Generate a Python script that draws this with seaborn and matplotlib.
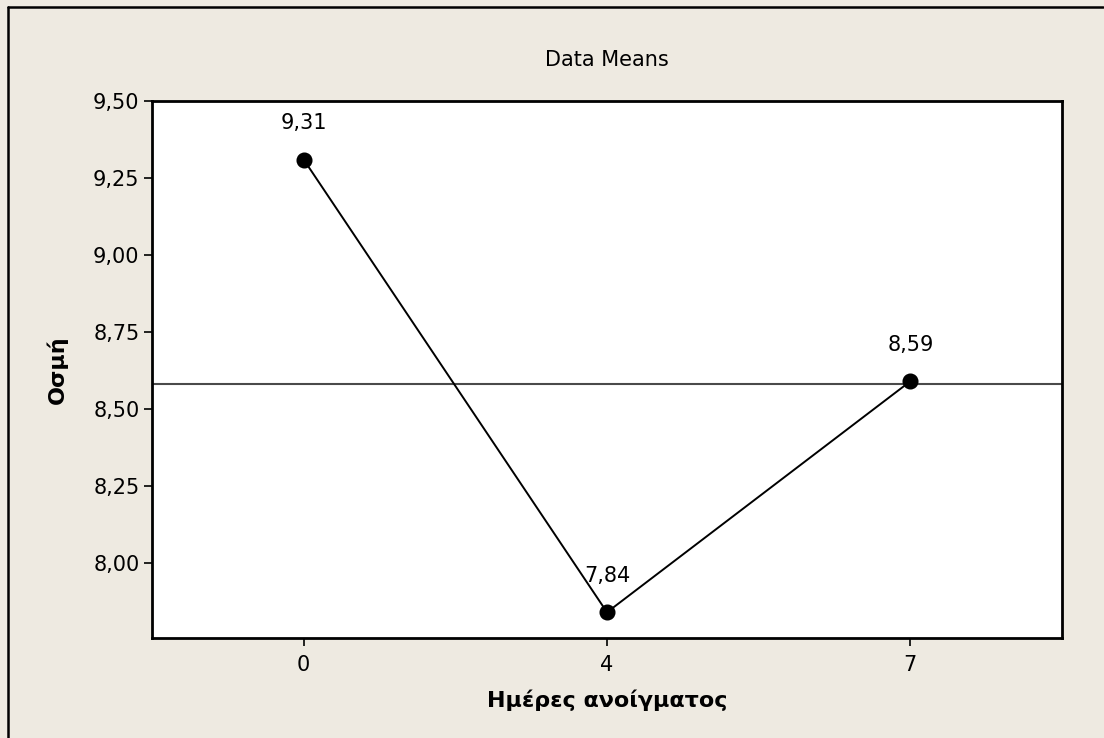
import matplotlib
matplotlib.use("Agg")
import matplotlib.pyplot as plt
import seaborn as sns
import pandas as pd
from matplotlib.lines import Line2D

# Main effects: mean odour score per opening day
days = ["0", "4", "7"]
means = [9.31, 7.84, 8.59]
grand_mean = 8.58
y_ticks = [8.00, 8.25, 8.50, 8.75, 9.00, 9.25, 9.50]

title = "Data Means"
x_label = "Ημέρες ανοίγματος"
y_label = "Οσμή"

BG = "#eeeae1"

sns.set_theme(style="white")
plt.rcParams["font.family"] = ["DejaVu Sans"]

df = pd.DataFrame({"day": days, "mean": means})

fig = plt.figure(figsize=(11.04, 7.38), dpi=100, facecolor=BG)
ax = fig.add_axes([152 / 1104, 1 - 638 / 738, (1062 - 152) / 1104, (638 - 101) / 738])
ax.set_facecolor("white")

# reference line at the overall mean
ax.axhline(grand_mean, color="#4a4a4a", lw=1.5, zorder=1)

sns.pointplot(data=df, x="day", y="mean", order=days, color="black",
              markers="o", linestyles="-", linewidth=1.4, markersize=10.5,
              errorbar=None, ax=ax, zorder=3)

for i, v in enumerate(means):
    ax.annotate(f"{v:.2f}".replace(".", ","), xy=(i, v), xytext=(0, 19),
                textcoords="offset points", ha="center", va="bottom",
                fontsize=15, color="black")

ax.set_xlim(-0.5, 2.5)
ax.set_ylim(7.7565, 9.50)
ax.set_yticks(y_ticks)
ax.set_yticklabels([f"{t:.2f}".replace(".", ",") for t in y_ticks])
ax.tick_params(axis="both", which="major", direction="out", length=6, width=1.2,
               color="black", labelsize=15, labelcolor="black", pad=3,
               left=True, bottom=True, right=False, top=False)
ax.tick_params(axis="x", pad=6)

for s in ax.spines.values():
    s.set_visible(True)
    s.set_color("black")
    s.set_linewidth(2)

ax.set_xlabel(x_label, fontsize=16, fontweight="bold", color="black", labelpad=11)
ax.set_ylabel(y_label, fontsize=16, fontweight="bold", color="black", labelpad=18)
ax.set_title(title, fontsize=15, color="black", pad=25)

# outer frame lines along the top and left of the figure
fig.add_artist(Line2D([8 / 1104, 1103 / 1104], [1 - 7 / 738, 1 - 7 / 738],
                      transform=fig.transFigure, color="black", lw=1.8))
fig.add_artist(Line2D([8 / 1104, 8 / 1104], [0, 1 - 7 / 738],
                      transform=fig.transFigure, color="black", lw=1.8))

fig.savefig("out.png", dpi=100, facecolor=BG)
